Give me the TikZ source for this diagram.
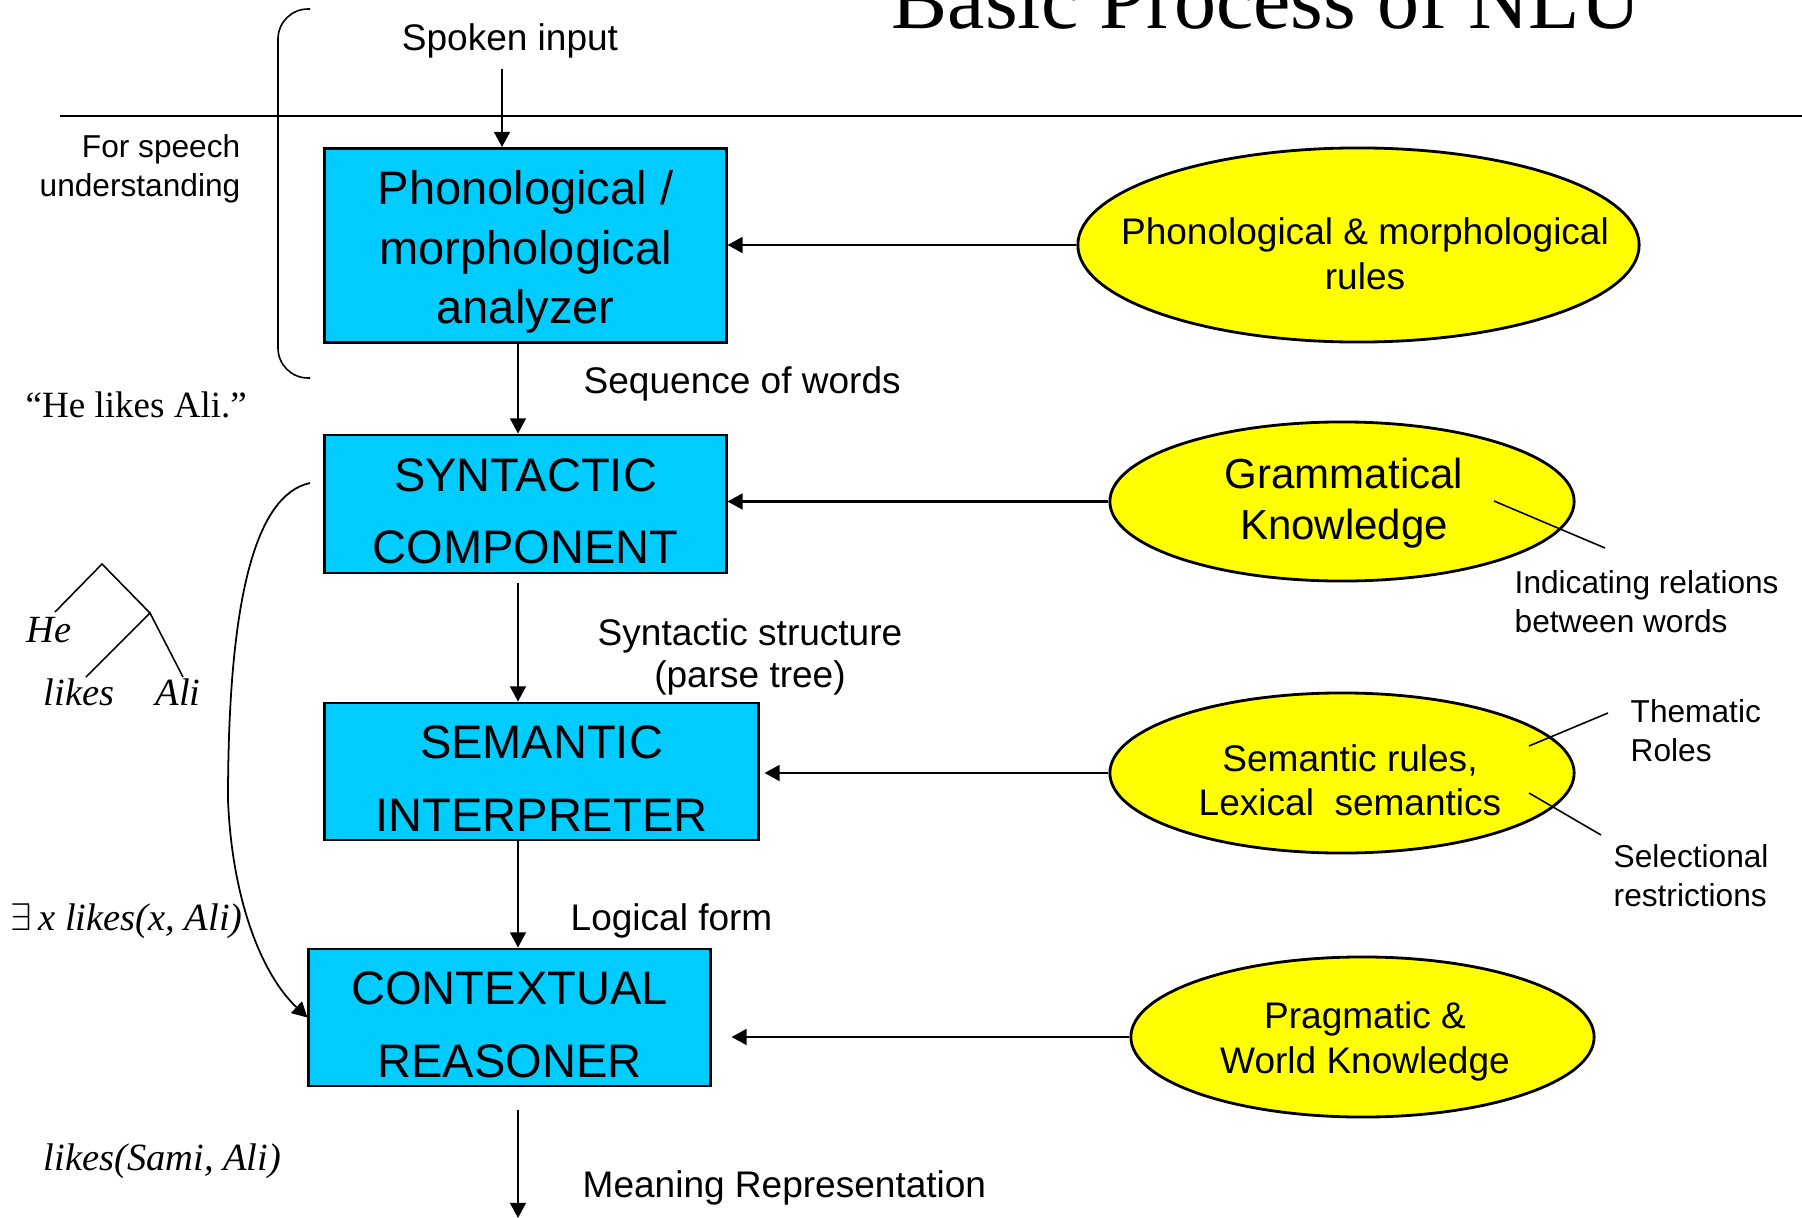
\documentclass[tikz,border=0pt]{standalone}
\usepackage{fontspec}
\setmainfont{Liberation Sans}
\newfontfamily\timesfont{Liberation Serif}
\usetikzlibrary{arrows.meta,shapes.geometric}
\definecolor{boxcyan}{RGB}{0,204,255}
\definecolor{knowyellow}{RGB}{255,255,0}
% raises the first line of a multi-line node to a full em
\newcommand\firstlinestrut{\rule{0pt}{1em}}
\begin{document}
\begin{tikzpicture}[x=0.01cm,y=-0.01cm,
  stagebox/.style={draw, line width=0.8pt, fill=boxcyan, rectangle, inner sep=0pt},
  knowell/.style={draw, line width=0.8pt, fill=knowyellow, ellipse, inner sep=0pt},
  stagetext/.style={align=center, inner sep=0pt, font=\fontsize{13.37}{20.63}\selectfont},
  knowtext/.style={align=center, inner sep=0pt, font=\fontsize{10.53}{12.8}\selectfont},
  captext/.style={inner sep=0pt, font=\fontsize{10.53}{11.95}\selectfont},
  notetext/.style={inner sep=0pt, align=left, font=\fontsize{9}{10.95}\selectfont},
  seriftext/.style={inner sep=0pt, font=\timesfont\fontsize{10.53}{13}\selectfont},
  serifit/.style={inner sep=0pt, font=\timesfont\itshape\fontsize{10.95}{13}\selectfont},
  flowarrow/.style={-{Triangle[length=4.3pt,width=4.5pt]}, line width=0.5pt},
  feedarrow/.style={-{Triangle[length=4.3pt,width=4.5pt]}, line width=0.7pt},
  hairline/.style={line width=0.45pt},
]
\fill[white] (0,0) rectangle (1802,1218);
\useasboundingbox (0,0) rectangle (1802,1218);

% heading and the divider under it
\node[anchor=base west, inner sep=0pt, font=\timesfont\fontsize{23.9}{28}\selectfont] (title) at (891,28) {Basic Process of NLU};
\coordinate (divL) at (60,116);
\coordinate (divR) at (1802,116);
\draw[line width=0.65pt] (divL) -- (divR);

% processing stages
\node[stagebox, minimum width=4.01cm, minimum height=1.94cm] (b1) at (525.5,245.5) {};
\node[stagebox, minimum width=4.01cm, minimum height=1.38cm] (b2) at (525.5,504) {};
\node[stagebox, minimum width=4.33cm, minimum height=1.37cm] (b3) at (541.5,771.5) {};
\node[stagebox, minimum width=4.01cm, minimum height=1.37cm] (b4) at (509.5,1017.5) {};

\node[stagetext, font=\fontsize{13.37}{16.93}\selectfont] (b1t) at (b1.center) {\firstlinestrut Phonological /\\morphological\\analyzer};
\node[stagetext] (b2t) at (b2.center) {\firstlinestrut SYNTACTIC\\COMPONENT};
\node[stagetext] (b3t) at (b3.center) {\firstlinestrut SEMANTIC\\INTERPRETER};
\node[stagetext] (b4t) at (b4.center) {\firstlinestrut CONTEXTUAL\\REASONER};

% knowledge sources
\node[knowell, minimum width=5.61cm, minimum height=1.94cm] (k1) at (1358.5,245) {};
\node[knowell, minimum width=4.64cm, minimum height=1.59cm] (k2) at (1342,501.5) {};
\node[knowell, minimum width=4.64cm, minimum height=1.60cm] (k3) at (1342,773) {};
\node[knowell, minimum width=4.63cm, minimum height=1.60cm] (k4) at (1362.5,1037) {};

\node[knowtext] (k1t) at (1365,249) {\firstlinestrut Phonological \& morphological\\rules};
\node[knowtext, font=\fontsize{11.95}{14.5}\selectfont] (k2t) at (1344,503.5) {Grammatical\\Knowledge};
\node[knowtext, font=\fontsize{10.53}{12.52}\selectfont] (k3t) at (1350,775.5) {\firstlinestrut Semantic rules,\\Lexical\ \ semantics};
\node[knowtext] (k4t) at (1365,1036) {\firstlinestrut Pragmatic \&\\World Knowledge};

% knowledge feeding the stages
\draw[feedarrow] (k1.west) -- (k1.west -| b1.east);
\draw[feedarrow] (k2.west) -- (k2.west -| b2.east);
\draw[feedarrow, shorten >=0.05cm] (k3.west) -- (k3.west -| b3.east);
\draw[feedarrow, shorten >=0.2cm] (k4.west) -- (k4.west -| b4.east);

% main pipeline
\coordinate (axis) at (518,0);
\node[captext, anchor=base] (spoken) at (510,51) {Spoken input};
\coordinate (spokenend) at (502,69);
\draw[flowarrow] (spokenend) -- (spokenend |- b1.north);
\draw[flowarrow] (b1.south -| axis) -- (b2.north -| axis);
\draw[flowarrow, shorten <=0.09cm] (b2.south -| axis) -- (b3.north -| axis);
\draw[flowarrow] (b3.south -| axis) -- (b4.north -| axis);
\coordinate (meaningend) at (518,1218);
\draw[flowarrow, shorten <=0.23cm] (b4.south -| axis) -- (meaningend);

\node[captext, anchor=base west] (seqlbl) at (583,393) {Sequence of words};
\node[captext, anchor=north, align=center] (synlbl) at (750,618) {Syntactic structure\\(parse tree)};
\node[captext, anchor=base west] (loglbl) at (570,930) {Logical form};
\node[captext, anchor=base west] (meanlbl) at (582,1197) {Meaning Representation};

% side notes on the knowledge sources
\coordinate (relA) at (1494,501);
\coordinate (relB) at (1605,548);
\draw[hairline] (relA) -- (relB);
\node[notetext, anchor=north west] (relnote) at (1514,570) {Indicating relations\\between words};
\coordinate (thA) at (1529,746);
\coordinate (thB) at (1608,713);
\draw[hairline] (thA) -- (thB);
\node[notetext, anchor=north west] (thnote) at (1630,699) {Thematic\\Roles};
\coordinate (selA) at (1529,793);
\coordinate (selB) at (1601,835);
\draw[hairline] (selA) -- (selB);
\node[notetext, anchor=north west] (selnote) at (1613,844) {Selectional\\restrictions};

% speech bracket
\node[notetext, anchor=north east, align=right] (speechnote) at (241,134) {For speech\\understanding};
\draw[hairline, rounded corners=0.3cm] (310,9) -- (278,9) -- (278,378) -- (310,378);

% worked example
\node[seriftext, anchor=base west] (quote) at (25,417) {“He likes Ali.”};
\coordinate (tApex) at (102,564);
\coordinate (tHe) at (55,612);
\coordinate (tVP) at (150,613);
\coordinate (tLikes) at (86,677);
\coordinate (tAli) at (183,677);
\draw[hairline] (tHe) -- (tApex) -- (tVP);
\draw[hairline] (tLikes) -- (tVP) -- (tAli);
\node[serifit, anchor=base west] (heleaf) at (26,642) {He};
\node[serifit, anchor=base west] (likesleaf) at (43,705) {likes};
\node[serifit, anchor=base west] (alileaf) at (155,705) {Ali};
\node[serifit, anchor=base west] (lfex) at (10,930) {$\exists$\,x likes(x, Ali)};
\node[serifit, anchor=base west] (mrex) at (43,1170) {likes(Sami, Ali)};

% bypass from syntax straight to context
\coordinate (loopstart) at (310,483);
\coordinate (loopmid) at (228,800);
\draw[flowarrow] (loopstart) .. controls (255,495) and (228,600) .. (loopmid)
  .. controls (232,900) and (262,975) .. (b4.west);
\end{tikzpicture}
\end{document}
